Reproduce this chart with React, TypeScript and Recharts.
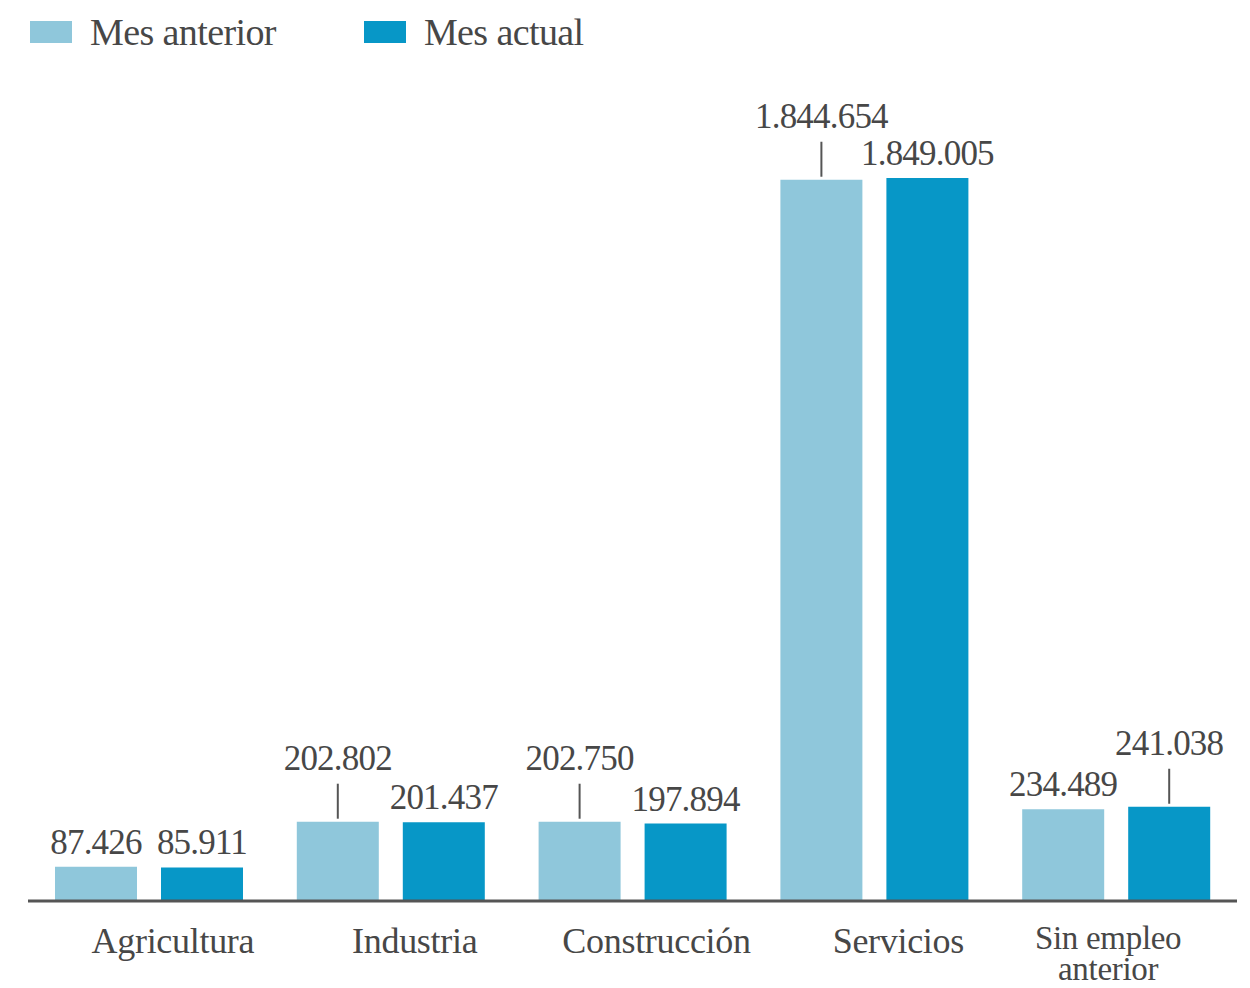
import { BarChart, Bar, XAxis, YAxis, LabelList } from "recharts";

const categories = ["Agricultura", "Industria", "Construcción", "Servicios", "Sin empleo\nanterior"];
const mesAnterior = [87426, 202802, 202750, 1844654, 234489];
const mesActual = [85911, 201437, 197894, 1849005, 241038];
// labels that sit higher with a small leader line, to avoid crowding
const leaderAnterior = [false, true, true, true, false];
const leaderActual = [false, false, false, false, true];

const LIGHT = "#8fc7db";
const DARK = "#0797c7";
const TEXT = "#474747";
const FONT = "'Liberation Serif', 'DejaVu Serif', serif";

const data = categories.map((name, i) => ({
  name,
  anterior: mesAnterior[i],
  actual: mesActual[i],
}));

const fmt = (v: number) => String(v).replace(/\B(?=(\d{3})+(?!\d))/g, ".");

function makeLabel(leaders: boolean[]) {
  return (props: any) => {
    const { x, y, width, value, index } = props;
    const cx = x + width / 2;
    const raised = leaders[index];
    return (
      <g>
        {raised && <line x1={cx} x2={cx} y1={y - 3} y2={y - 38} stroke="#555" strokeWidth={2} />}
        <text
          x={cx}
          y={raised ? y - 52 : y - 13}
          textAnchor="middle"
          fontFamily={FONT}
          fontSize={35}
          letterSpacing={-0.8}
          fill={TEXT}
        >
          {fmt(value)}
        </text>
      </g>
    );
  };
}

function CategoryTick(props: any) {
  const { x, y, payload } = props;
  const lines = String(payload.value).split("\n");
  const multi = lines.length > 1;
  return (
    <text x={x} y={y} textAnchor="middle" fontFamily={FONT} fontSize={multi ? 33 : 36} letterSpacing={-0.3} fill={TEXT}>
      {lines.map((l, i) => (
        <tspan key={i} x={x + (multi ? -8 : 24)} dy={i === 0 ? (multi ? 40 : 44) : 31}>
          {l}
        </tspan>
      ))}
    </text>
  );
}

function LegendItem({ color, label }: { color: string; label: string }) {
  return (
    <div style={{ display: "flex", alignItems: "center", marginRight: 88 }}>
      <div style={{ width: 42, height: 22, background: color, marginRight: 18 }} />
      <span style={{ fontFamily: FONT, fontSize: 38, color: TEXT, letterSpacing: -0.6 }}>{label}</span>
    </div>
  );
}

export default function App() {
  return (
    <div style={{ position: "absolute", left: 0, top: 0, width: 1250, height: 988, background: "#fff" }}>
      <div style={{ position: "absolute", left: 30, top: 10, display: "flex" }}>
        <LegendItem color={LIGHT} label="Mes anterior" />
        <LegendItem color={DARK} label="Mes actual" />
      </div>
      <BarChart
        width={1250}
        height={988}
        data={data}
        margin={{ top: 119, right: 13, bottom: 7, left: 28 }}
        barCategoryGap={27}
        barGap={24}
      >
        <XAxis
          dataKey="name"
          tickLine={false}
          axisLine={{ stroke: "#555", strokeWidth: 3 }}
          height={80}
          interval={0}
          tick={<CategoryTick />}
        />
        <YAxis hide domain={[0, 2000000]} />
        <Bar dataKey="anterior" fill={LIGHT} isAnimationActive={false}>
          <LabelList dataKey="anterior" content={makeLabel(leaderAnterior)} />
        </Bar>
        <Bar dataKey="actual" fill={DARK} isAnimationActive={false}>
          <LabelList dataKey="actual" content={makeLabel(leaderActual)} />
        </Bar>
      </BarChart>
    </div>
  );
}
